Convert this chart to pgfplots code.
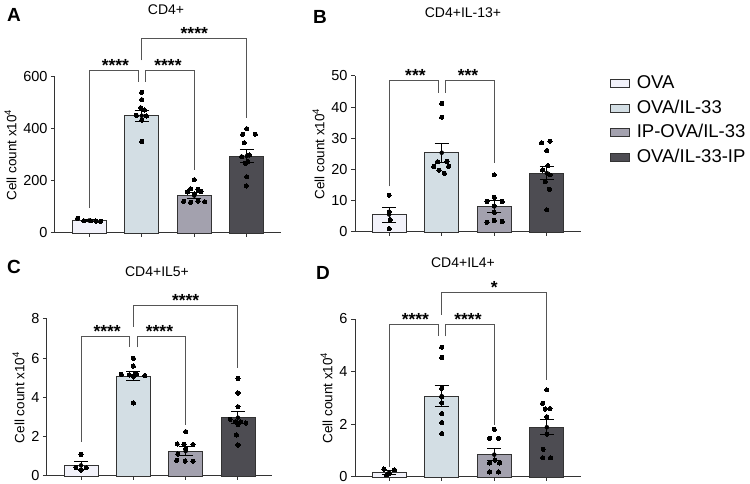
\documentclass[border=0pt]{standalone}
\usepackage{fontspec}
\setmainfont{Liberation Sans}
\usepackage{pgfplots}
\pgfplotsset{compat=1.18}

\definecolor{cOVA}{HTML}{F2F2FA}
\definecolor{cIL}{HTML}{D3DEE4}
\definecolor{cIP}{HTML}{A3A1AE}
\definecolor{cILIP}{HTML}{4D4C52}
\definecolor{axisgray}{HTML}{333333}
\definecolor{brk}{HTML}{555555}

\tikzset{
  bracket/.style={brk, line width=1pt},
  stars/.style={font=\fontsize{17.5}{17.5}\selectfont\bfseries, anchor=base, yshift=-1pt, inner sep=0pt},
}

\pgfplotsset{
  panel/.style={
    scale only axis,
    anchor=south west,
    width=226pt, height=156pt,
    axis lines=left,
    axis line style={-, axisgray, line width=1pt},
    xmin=-0.65, xmax=3.65,
    ymin=0,
    xtick={0,1,2,3}, xticklabels={},
    tick align=outside,
    major tick length=4pt,
    tick style={axisgray, line width=1pt},
    ticklabel style={font=\fontsize{14.5}{16}\selectfont},
    /pgf/number format/assume math mode=true,
    ylabel={Cell count x10\textsuperscript{4}},
    ylabel style={font=\fontsize{13.5}{15}\selectfont},
    clip=false,
  },
  grpbar/.style={ybar, bar width=34pt, bar shift=0pt, draw=axisgray, line width=0.9pt, fill=#1},
  sem/.style={black, mark=none, only marks,
    error bars/.cd, y dir=both, y explicit,
    error bar style={line width=1pt, black},
    error mark options={rotate=90, mark size=7pt, line width=1pt, black}},
  dots/.style={only marks, mark=*, mark size=2.1pt, mark options={fill=black, draw=black, line width=0pt}},
}

\begin{document}
\begin{tikzpicture}[x=1pt, y=1pt]
\useasboundingbox (0,0) rectangle (750,484);

% ---------- A: CD4+ ----------
\begin{axis}[panel, at={(55pt,251pt)}, ymax=600, ytick={0,200,400,600}]
\addplot[grpbar=cOVA]  coordinates {(0,48)};
\addplot[grpbar=cIL]   coordinates {(1,451)};
\addplot[grpbar=cIP]   coordinates {(2,144)};
\addplot[grpbar=cILIP] coordinates {(3,296)};
\addplot[sem] coordinates {(0,48) +- (0,4) (1,451) +- (0,22) (2,144) +- (0,12) (3,296) +- (0,24)};
\addplot[dots] coordinates {
  (-0.22,56) (-0.1,47) (0.03,47) (0.13,46) (0.22,45)
  (1,541) (1,513) (0.98,482) (1.05,473) (0.9,452) (1.09,450) (1,434) (1,352)
  (2,205) (1.93,170) (2.07,168) (1.87,158) (2.13,160) (2,150) (1.8,122) (1.93,118) (2.07,123) (2.2,120)
  (3,401) (2.92,379) (3.16,380) (2.95,347) (3.05,300) (2.9,294) (3.02,275) (2.97,268) (3,216) (2.99,181)};
\draw[bracket] (axis cs:0,96) -- (axis cs:0,626) -- (axis cs:0.93,626) -- (axis cs:0.93,581);
\draw[bracket] (axis cs:1.07,581) -- (axis cs:1.07,626) -- (axis cs:2,626) -- (axis cs:2,243);
\draw[bracket] (axis cs:1,664) -- (axis cs:1,747) -- (axis cs:3,747) -- (axis cs:3,441);
\node[stars] at (axis cs:0.5,626) {****};
\node[stars] at (axis cs:1.5,626) {****};
\node[stars] at (axis cs:2,747) {****};
\end{axis}

% ---------- B: CD4+IL-13+ ----------
\begin{axis}[panel, at={(355pt,252pt)}, ymax=50, ytick={0,10,20,30,40,50},
  legend style={at={(1.115,1.03)}, anchor=north west, draw=none, fill=none,
    font=\fontsize{18.5}{20}\selectfont, row sep=4.5pt,
    nodes={inner sep=1pt, text height=14pt, text depth=4pt}},
  legend cell align=left,
  legend image code/.code={\draw[#1, draw=axisgray, line width=0.8pt] (0pt,-4pt) rectangle (19pt,4pt); \path (25pt,0pt);}]
\addlegendimage{fill=cOVA}\addlegendentry{OVA}
\addlegendimage{fill=cIL}\addlegendentry{OVA/IL-33}
\addlegendimage{fill=cIP}\addlegendentry{IP-OVA/IL-33}
\addlegendimage{fill=cILIP}\addlegendentry{OVA/IL-33-IP}
\addplot[grpbar=cOVA]  coordinates {(0,5.6)};
\addplot[grpbar=cIL]   coordinates {(1,25.4)};
\addplot[grpbar=cIP]   coordinates {(2,8.2)};
\addplot[grpbar=cILIP] coordinates {(3,18.9)};
\addplot[sem] coordinates {(0,5.6) +- (0,2.4) (1,25.4) +- (0,3.1) (2,8.2) +- (0,1.8) (3,18.9) +- (0,2.2)};
\addplot[dots] coordinates {
  (0,11.8) (0,6.5) (0.02,3.9) (0,1.1)
  (1,41.2) (1,36.8) (1.1,22.6) (0.85,21.0) (1.13,21.0) (0.95,19.8) (1.05,18.8) (0.92,22.5)
  (2,18.3) (2,11.1) (1.86,9.8) (2.15,9.8) (2,8.4) (2,6.3) (1.86,3.1) (2,3.7) (2.15,3.4)
  (2.9,28.6) (3.06,29.1) (3,26.1) (3.02,21.3) (2.92,19.9) (3.06,18.3) (2.97,16.2) (3.05,13.7) (3,7.1)};
\draw[bracket] (axis cs:0,14.6) -- (axis cs:0,48.7) -- (axis cs:0.93,48.7) -- (axis cs:0.93,44.7);
\draw[bracket] (axis cs:1.07,44.7) -- (axis cs:1.07,48.7) -- (axis cs:2,48.7) -- (axis cs:2,22.1);
\node[stars] at (axis cs:0.5,48.7) {***};
\node[stars] at (axis cs:1.5,48.7) {***};
\end{axis}

% ---------- C: CD4+IL5+ ----------
\begin{axis}[panel, at={(47pt,8pt)}, width=225pt, height=157pt, ymax=8, ytick={0,2,4,6,8}]
\addplot[grpbar=cOVA]  coordinates {(0,0.54)};
\addplot[grpbar=cIL]   coordinates {(1,5.09)};
\addplot[grpbar=cIP]   coordinates {(2,1.27)};
\addplot[grpbar=cILIP] coordinates {(3,2.97)};
\addplot[sem] coordinates {(0,0.54) +- (0,0.2) (1,5.09) +- (0,0.23) (2,1.27) +- (0,0.22) (3,2.97) +- (0,0.32)};
\addplot[dots] coordinates {
  (0,1.1) (-0.1,0.45) (0.1,0.42) (0,0.3)
  (1,6.0) (1,5.6) (0.77,5.18) (0.92,5.15) (1.06,5.2) (1.22,5.12) (1,5.08) (1,3.72)
  (2,2.26) (1.84,1.63) (1.97,1.62) (2.14,1.6) (2,1.38) (1.85,1.12) (1.83,0.8) (1.99,0.76) (2.14,0.75)
  (3,4.97) (3,4.23) (3,3.53) (2.85,2.89) (2.95,2.77) (3.05,2.75) (3.15,2.7) (3,2.63) (2.97,2.09) (3,1.58)};
\draw[bracket] (axis cs:0,1.75) -- (axis cs:0,7.1) -- (axis cs:0.93,7.1) -- (axis cs:0.93,6.55);
\draw[bracket] (axis cs:1.07,6.55) -- (axis cs:1.07,7.1) -- (axis cs:2,7.1) -- (axis cs:2,2.6);
\draw[bracket] (axis cs:1,7.6) -- (axis cs:1,8.71) -- (axis cs:3,8.71) -- (axis cs:3,5.48);
\node[stars] at (axis cs:0.5,7.1) {****};
\node[stars] at (axis cs:1.5,7.1) {****};
\node[stars] at (axis cs:2,8.71) {****};
\end{axis}

% ---------- D: CD4+IL4+ ----------
\begin{axis}[panel, at={(355pt,7pt)}, height=158pt, ymax=6, ytick={0,2,4,6}]
\addplot[grpbar=cOVA]  coordinates {(0,0.16)};
\addplot[grpbar=cIL]   coordinates {(1,3.07)};
\addplot[grpbar=cIP]   coordinates {(2,0.85)};
\addplot[grpbar=cILIP] coordinates {(3,1.89)};
\addplot[sem] coordinates {(0,0.16) +- (0,0.08) (1,3.07) +- (0,0.4) (2,0.85) +- (0,0.22) (3,1.89) +- (0,0.29)};
\addplot[dots] coordinates {
  (-0.1,0.3) (0.1,0.27) (0,0.12) (-0.05,0.08)
  (1,4.93) (1,4.54) (1,3.37) (1,3.05) (1,2.82) (1,2.41) (1,2.07) (1,1.65)
  (2,1.81) (1.91,1.47) (2.08,1.47) (2.01,0.64) (1.91,0.53) (2.1,0.53) (1.91,0.19) (2.08,0.19)
  (3,3.31) (2.92,2.8) (3.06,2.6) (2.97,2.58) (3,2.29) (3,1.63) (2.93,1.05) (2.92,0.73) (3.07,0.73)};
\draw[bracket] (axis cs:0,0.38) -- (axis cs:0,5.78) -- (axis cs:0.93,5.78) -- (axis cs:0.93,5.34);
\draw[bracket] (axis cs:1.07,5.34) -- (axis cs:1.07,5.78) -- (axis cs:2,5.78) -- (axis cs:2,1.97);
\draw[bracket] (axis cs:1,6.16) -- (axis cs:1,6.99) -- (axis cs:3,6.99) -- (axis cs:3,3.69);
\node[stars] at (axis cs:0.5,5.78) {****};
\node[stars] at (axis cs:1.5,5.78) {****};
\node[stars] at (axis cs:2,6.99) {*};
\end{axis}

% panel titles and letters
\begin{scope}[every node/.style={font=\fontsize{14}{16}\selectfont}]
\node at (166,474) {CD4+};
\node at (463,471) {CD4+IL-13+};
\node at (157,212) {CD4+IL5+};
\node at (463,221) {CD4+IL4+};
\end{scope}
\begin{scope}[every node/.style={font=\fontsize{19}{20}\selectfont\bfseries}]
\node at (14,469) {A};
\node at (320,467) {B};
\node at (14,217) {C};
\node at (323,211) {D};
\end{scope}
\end{tikzpicture}
\end{document}
